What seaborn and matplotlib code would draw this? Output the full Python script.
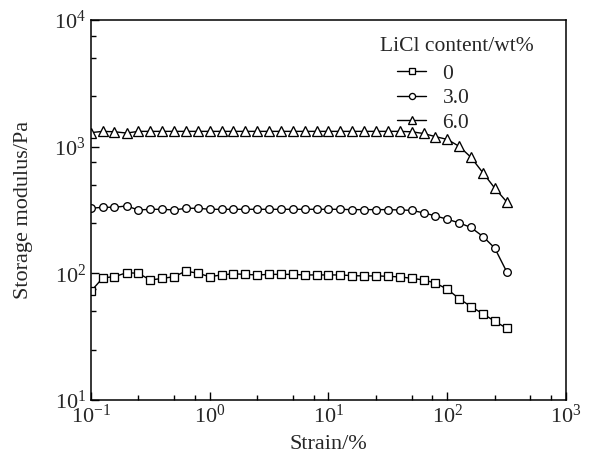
import numpy as np
import pandas as pd
import matplotlib
matplotlib.use('Agg')
import matplotlib.pyplot as plt
import matplotlib.ticker as mticker
import seaborn as sns

strain = [0.1, 0.126, 0.158, 0.2, 0.251, 0.316, 0.398, 0.501, 0.631, 0.794,
	1.0, 1.26, 1.58, 2.0, 2.51, 3.16, 3.98, 5.01, 6.31, 7.94,
	10.0, 12.6, 15.8, 20.0, 25.1, 31.6, 39.8, 50.1, 63.1, 79.4,
	100, 126, 158, 200, 251, 316]

g_0 = [72, 92, 94, 101, 100, 88.5, 91, 94, 104, 100,
	94, 97, 99, 98, 97, 98, 98, 98, 97, 97,
	97, 97, 95.7, 95.3, 95.3, 94.6, 93.6, 91.3, 88.5, 83.8,
	74.8, 63, 54.6, 47.8, 41.8, 36.8]
g_3 = [326, 332, 332, 340, 316, 320, 320, 316, 326, 326,
	320, 320, 320, 320, 320, 320, 320, 320, 320, 320,
	320, 320, 318, 318, 318, 318, 316, 314, 300, 284,
	267, 250, 230, 195, 158, 103]
g_6 = [1290, 1320, 1310, 1280, 1320, 1320, 1320, 1320, 1320, 1320,
	1320, 1320, 1320, 1320, 1320, 1320, 1320, 1320, 1320, 1320,
	1320, 1320, 1320, 1320, 1320, 1320, 1320, 1310, 1270, 1200,
	1140, 1005, 825, 620, 470, 367]

labels = ['0', '3.0', '6.0']
series = [g_0, g_3, g_6]

df = pd.concat([pd.DataFrame({'strain': strain, 'G': s, 'LiCl': lab})
	for lab, s in zip(labels, series)], ignore_index = True)

sns.set_style('ticks')
plt.rcParams['font.family'] = 'serif'
plt.rcParams['font.serif'] = ['Liberation Serif', 'STIXGeneral', 'DejaVu Serif']
plt.rcParams['mathtext.fontset'] = 'stix'

fig = plt.figure(figsize = (5.94, 4.65), dpi = 100)
ax = fig.add_axes([0.153, 0.140, 0.800, 0.817])

sns.lineplot(data = df, x = 'strain', y = 'G', hue = 'LiCl', style = 'LiCl',
	palette = ['black'] * 3, markers = {'0': 's', '3.0': 'o', '6.0': '^'},
	dashes = False, markersize = 5.5, markerfacecolor = 'white',
	markeredgecolor = 'black', markeredgewidth = 0.95, linewidth = 1.0,
	ax = ax, legend = True)

# triangles a bit bigger
for ln in ax.get_lines():
	if ln.get_marker() == '^':
		ln.set_markersize(7.5)

ax.set_xscale('log')
ax.set_yscale('log')
ax.set_xlim(0.1, 1000)
ax.set_ylim(10, 10000)

ax.xaxis.set_minor_locator(mticker.LogLocator(base = 10, subs = [2.5, 5, 7.5]))
ax.yaxis.set_minor_locator(mticker.LogLocator(base = 10, subs = [2.5, 5, 7.5]))
ax.xaxis.set_minor_formatter(mticker.NullFormatter())
ax.yaxis.set_minor_formatter(mticker.NullFormatter())
ax.tick_params(which = 'both', direction = 'in', top = False, right = False,
	labelsize = 16, width = 1, color = 'black')
ax.tick_params(which = 'major', length = 6)
ax.tick_params(which = 'minor', length = 3.5)
for sp in ax.spines.values():
	sp.set_linewidth(1.1)
	sp.set_color('black')

ax.set_xlabel('Strain/%', fontsize = 16, labelpad = 5)
ax.set_ylabel('Storage modulus/Pa', fontsize = 16, labelpad = 15)

handles, labs = ax.get_legend_handles_labels()
ax.legend(handles, labs, loc = 'upper left', bbox_to_anchor = (0.645, 0.885),
	frameon = False, fontsize = 15.5, handlelength = 1.35, handletextpad = 0.75,
	labelspacing = 0.2, borderaxespad = 0, borderpad = 0, markerscale = 0.8)
ax.text(0.77, 0.93, 'LiCl content/wt%', transform = ax.transAxes,
	fontsize = 15.5, ha = 'center', va = 'center')

fig.savefig('out.png', dpi = 100)
